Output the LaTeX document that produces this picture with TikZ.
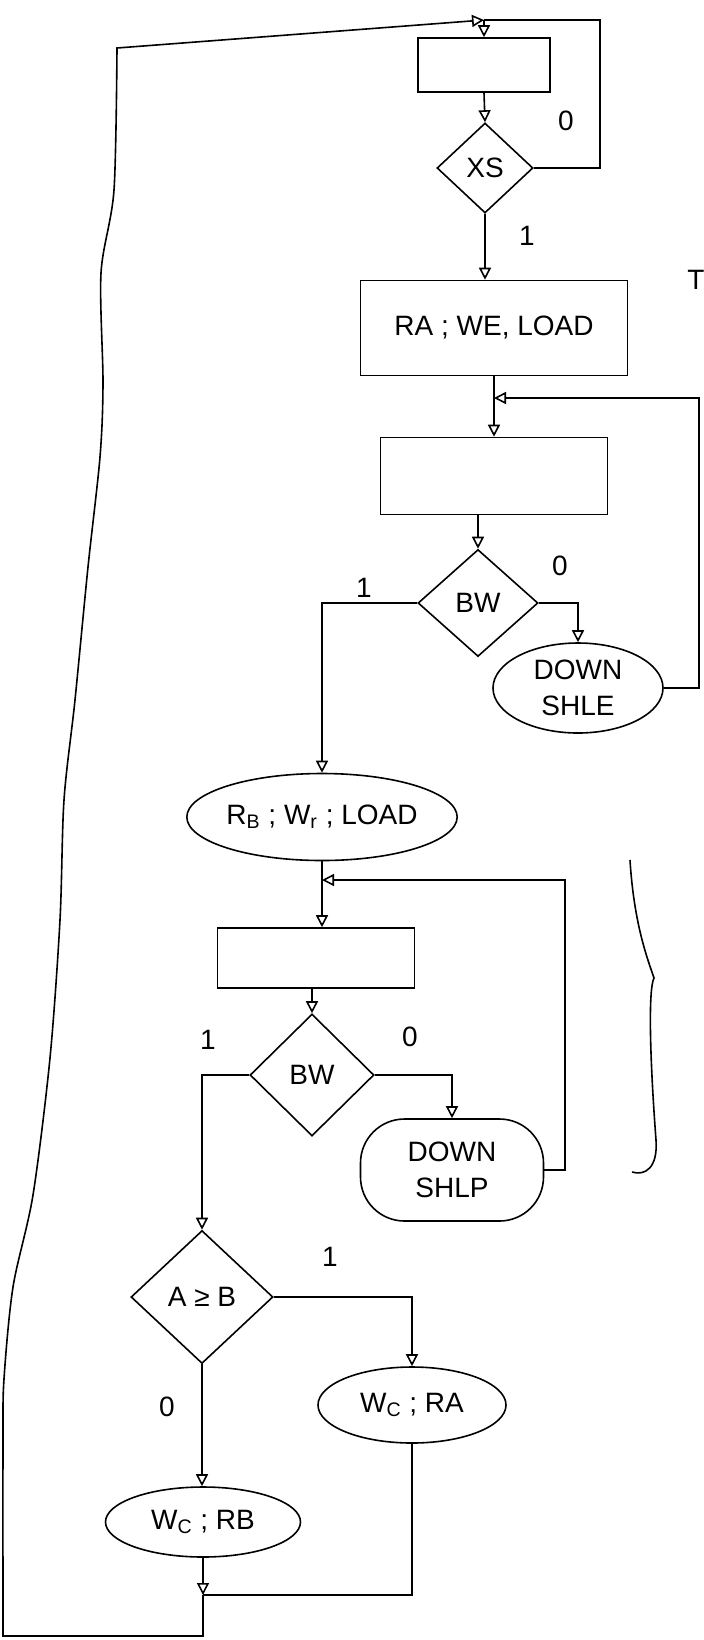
\documentclass[tikz,border=0pt]{standalone}
\usepackage{fontspec}
\setmainfont{Liberation Sans}
\usetikzlibrary{shapes.geometric,arrows.meta}
\begin{document}
\begin{tikzpicture}[x=0.5pt,y=-0.5pt, line width=0.8pt,
  every node/.style={font=\fontsize{14}{18}\selectfont},
  arr/.style={-{Triangle[open,length=6pt,width=6pt]}},
  pbox/.style={draw, rectangle, inner sep=0pt},
  dec/.style={draw, diamond, inner sep=0pt},
  term/.style={draw, ellipse, inner sep=0pt, align=center},
  rterm/.style={draw, rounded corners=22pt, inner sep=0pt, align=center}]
\fill[white] (0,0) rectangle (704,1640);
\useasboundingbox (0,0) rectangle (704,1640);

% nodes
\node[pbox, minimum width=66pt, minimum height=27pt] (b1) at (484,65) {};
\node[dec, minimum width=48pt, minimum height=45pt] (xs) at (485,168) {XS};
\node[pbox, minimum width=133.5pt, minimum height=47.5pt] (ra) at (494,328) {RA ; WE, LOAD};
\node[pbox, minimum width=113.5pt, minimum height=38.5pt] (b2) at (494,476) {};
\node[dec, minimum width=60pt, minimum height=53.5pt] (bw1) at (478,603) {BW};
\node[term, minimum width=85pt, minimum height=45pt] (shle) at (578,688) {DOWN\\SHLE};
\node[term, minimum width=133.5pt, minimum height=43.5pt] (rb) at (322,817) {R\textsubscript{B} ; W\textsubscript{r} ; LOAD};
\node[pbox, minimum width=98.5pt, minimum height=30pt] (b3) at (316,958) {};
\node[dec, minimum width=62pt, minimum height=61pt] (bw2) at (312,1075) {BW};
\node[rterm, minimum width=91.5pt, minimum height=51pt] (shlp) at (452,1170) {DOWN\\SHLP};
\node[dec, minimum width=71pt, minimum height=66.5pt] (ageb) at (202,1297) {A ≥ B};
\node[term, minimum width=94pt, minimum height=38pt] (wcra) at (412,1405) {W\textsubscript{C} ; RA};
\node[term, minimum width=97.5pt, minimum height=35pt] (wcrb) at (203,1522) {W\textsubscript{C} ; RB};

% free coordinates
\coordinate (T) at (484,20);
\coordinate (c1) at (600,20);
\coordinate (j1) at (494,398);
\coordinate (c2) at (699,398);
\coordinate (j2) at (322,880);
\coordinate (c4) at (565,880);
\coordinate (m) at (203,1595);
\coordinate (mb) at (203,1636);

% connectors
\draw[arr] (T) -- (b1.north);
\draw[arr] (b1.south) -- (xs.north);
\draw (xs.east) -| (c1) -- (T);
\draw[arr] (xs.south) -- (xs.south |- ra.north);
\draw[arr] (ra.south) -- (b2.north);
\draw[arr] (shle.east) -| (c2) -- (j1);
\draw[arr] (b2.south -| bw1.north) -- (bw1.north);
\draw[arr] (bw1.west) -| (rb.north);
\draw[arr] (bw1.east) -| (shle.north);
\draw[arr] (rb.south) -- (rb.south |- b3.north);
\draw[arr] (shlp.east) -| (c4) -- (j2);
\draw[arr] (b3.south -| bw2.north) -- (bw2.north);
\draw[arr] (bw2.west) -| (ageb.north);
\draw[arr] (bw2.east) -| (shlp.north);
\draw[arr] (ageb.east) -| (wcra.north);
\draw[arr] (ageb.south) -- (ageb.south |- wcrb.north);
\draw[arr] (wcrb.south) -- (m);
\draw (wcra.south) |- (m);
\draw[arr] (m) -- (mb) -- (3,1636) -- plot[smooth] coordinates {(3,1636) (3,1440) (4,1379) (13,1287) (33,1195) (50,1058) (60,920) (64,800) (75,700) (88,567) (100,457) (103,383) (101,273) (114,190) (117,48)} -- (T);

% labels
\node at (566,121) {0};
\node at (527,236) {1};
\node at (364,588) {1};
\node at (560,566) {0};
\node at (208,1040) {1};
\node at (410,1037) {0};
\node at (330,1257) {1};
\node at (167,1407) {0};
\node at (696,280) {T};

% brace
\draw (630,860) .. controls (634,925) and (648,960) .. (654,978) .. controls (648,990) and (650,1060) .. (656,1140) .. controls (658,1168) and (645,1176) .. (632,1172);
\end{tikzpicture}
\end{document}
